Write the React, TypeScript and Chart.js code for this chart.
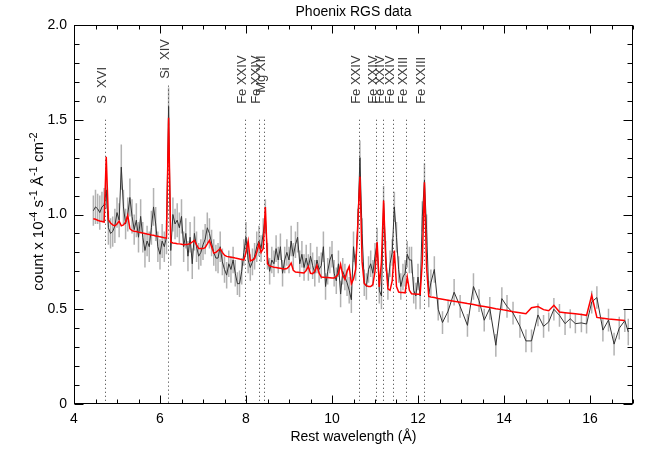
import React, { useEffect, useRef } from "react";
import { Chart, registerables } from "chart.js";

Chart.register(...registerables);

const TITLE = "Phoenix RGS data";
const X_TITLE = "Rest wavelength (Å)";
const Y_TITLE_PARTS: [string, boolean][] = [
  ["count x 10", false], ["-4", true], [" s", false], ["-1", true],
  [" Å", false], ["-1", true], [" cm", false], ["-2", true],
];
const X_TICKS = [4, 6, 8, 10, 12, 14, 16];
const X_TICK_LABELS = ["4", "6", "8", "10", "12", "14", "16"];
const Y_TICKS = [0, 0.5, 1.0, 1.5, 2.0];
const Y_TICK_LABELS = ["0", "0.5", "1.0", "1.5", "2.0"];

// Rest wavelength of each spectral bin (Å)
const WAVELENGTH = [
  4.45, 4.50, 4.55, 4.60, 4.65, 4.70, 4.75, 4.80, 4.85, 4.90,
  4.95, 5.00, 5.05, 5.10, 5.15, 5.20, 5.25, 5.30, 5.35, 5.40,
  5.45, 5.50, 5.55, 5.60, 5.65, 5.70, 5.75, 5.80, 5.85, 5.90,
  5.95, 6.00, 6.05, 6.10, 6.15, 6.20, 6.25, 6.30, 6.35, 6.40,
  6.45, 6.50, 6.55, 6.60, 6.65, 6.70, 6.75, 6.80, 6.85, 6.90,
  6.95, 7.00, 7.05, 7.10, 7.15, 7.20, 7.25, 7.30, 7.35, 7.40,
  7.45, 7.50, 7.55, 7.60, 7.65, 7.70, 7.75, 7.80, 7.85, 7.90,
  7.95, 8.00, 8.05, 8.10, 8.15, 8.20, 8.25, 8.30, 8.35, 8.40,
  8.45, 8.50, 8.55, 8.60, 8.65, 8.70, 8.75, 8.80, 8.85, 8.90,
  8.95, 9.00, 9.05, 9.10, 9.15, 9.20, 9.25, 9.30, 9.35, 9.40,
  9.45, 9.50, 9.55, 9.60, 9.65, 9.70, 9.75, 9.80, 9.85, 9.90,
  9.95, 10.00, 10.05, 10.10, 10.15, 10.20, 10.25, 10.30, 10.35, 10.40,
  10.45, 10.50, 10.55, 10.60, 10.65, 10.70, 10.75, 10.80, 10.85, 10.90,
  10.95, 11.00, 11.05, 11.10, 11.15, 11.20, 11.25, 11.30, 11.35, 11.40,
  11.45, 11.50, 11.55, 11.60, 11.65, 11.70, 11.75, 11.80, 11.85, 11.90,
  11.95, 12.00, 12.05, 12.10, 12.15, 12.20, 12.25, 12.30,
  12.38, 12.47, 12.57, 12.70, 12.84, 12.98, 13.15, 13.29, 13.42, 13.54,
  13.67, 13.81, 13.95, 14.07, 14.21, 14.37, 14.51, 14.64, 14.79, 14.92,
  15.04, 15.16, 15.29, 15.42, 15.54, 15.66, 15.80, 15.92, 16.04, 16.16,
  16.30, 16.43, 16.56, 16.68, 16.81, 16.89,
];

// Observed count rate (black)
const COUNTS = [
  1.02, 1.04, 1.03, 1.01, 1.04, 1.05, 1.13, 0.93, 0.90, 0.91,
  0.94, 1.01, 0.97, 1.25, 1.04, 0.95, 1.00, 1.09, 0.99, 0.92,
  0.97, 0.88, 0.99, 0.88, 0.81, 0.86, 0.83, 0.93, 1.04, 0.95,
  0.83, 0.79, 0.86, 0.83, 0.88, 1.57, 0.81, 1.00, 0.95, 0.97,
  0.93, 0.99, 0.83, 0.90, 0.78, 0.88, 0.74, 0.90, 0.83, 0.78,
  0.80, 0.84, 0.87, 0.93, 0.90, 0.85, 0.80, 0.77, 0.77, 0.83,
  0.75, 0.71, 0.68, 0.74, 0.71, 0.76, 0.69, 0.635, 0.635, 0.70,
  0.80, 0.88, 0.76, 0.72, 0.75, 0.78, 0.83, 0.86, 0.82, 0.90,
  0.99, 0.78, 0.70, 0.76, 0.74, 0.82, 0.76, 0.83, 0.69, 0.76,
  0.80, 0.76, 0.86, 0.78, 0.84, 0.88, 0.74, 0.79, 0.72, 0.77,
  0.72, 0.78, 0.73, 0.69, 0.76, 0.71, 0.73, 0.83, 0.62, 0.70,
  0.76, 0.79, 0.69, 0.65, 0.74, 0.58, 0.70, 0.67, 0.64, 0.60,
  0.55, 0.83, 0.72, 0.95, 1.30, 0.90, 0.64, 0.62, 0.71, 0.74,
  0.69, 0.78, 0.85, 0.60, 0.57, 1.06, 0.78, 0.62, 0.74, 0.80,
  1.04, 0.88, 0.71, 0.62, 0.67, 0.69, 0.79, 0.76, 0.76, 0.60,
  0.57, 0.67, 0.57, 0.99, 1.18, 0.92, 0.58, 0.64,
  0.71, 0.50, 0.43, 0.49, 0.59, 0.515, 0.415, 0.62, 0.545, 0.442,
  0.505, 0.31, 0.556, 0.515, 0.48, 0.41, 0.333, 0.333, 0.47, 0.41,
  0.433, 0.50, 0.468, 0.424, 0.45, 0.424, 0.428, 0.422, 0.538, 0.562,
  0.39, 0.443, 0.316, 0.40, 0.44, 0.38,
];

// 1-sigma uncertainty (grey bars)
const ERRORS = [
  0.08, 0.09, 0.08, 0.09, 0.08, 0.09, 0.10, 0.09, 0.08, 0.08,
  0.09, 0.08, 0.09, 0.12, 0.09, 0.08, 0.09, 0.10, 0.09, 0.08,
  0.09, 0.08, 0.09, 0.08, 0.09, 0.08, 0.08, 0.09, 0.10, 0.09,
  0.08, 0.08, 0.09, 0.08, 0.09, 0.10, 0.08, 0.09, 0.08, 0.09,
  0.08, 0.09, 0.08, 0.08, 0.08, 0.08, 0.08, 0.09, 0.08, 0.07,
  0.07, 0.08, 0.08, 0.08, 0.08, 0.07, 0.07, 0.07, 0.08, 0.08,
  0.07, 0.07, 0.07, 0.07, 0.07, 0.07, 0.07, 0.06, 0.07, 0.07,
  0.07, 0.08, 0.07, 0.07, 0.07, 0.07, 0.08, 0.08, 0.07, 0.08,
  0.09, 0.07, 0.07, 0.07, 0.07, 0.07, 0.07, 0.07, 0.07, 0.07,
  0.07, 0.07, 0.08, 0.07, 0.07, 0.08, 0.07, 0.07, 0.07, 0.07,
  0.07, 0.07, 0.07, 0.07, 0.07, 0.07, 0.07, 0.08, 0.07, 0.07,
  0.07, 0.07, 0.07, 0.07, 0.07, 0.07, 0.07, 0.07, 0.07, 0.07,
  0.07, 0.08, 0.07, 0.08, 0.09, 0.08, 0.07, 0.07, 0.07, 0.07,
  0.07, 0.07, 0.08, 0.07, 0.07, 0.09, 0.08, 0.07, 0.07, 0.07,
  0.08, 0.08, 0.07, 0.07, 0.07, 0.07, 0.07, 0.07, 0.07, 0.07,
  0.07, 0.07, 0.07, 0.08, 0.09, 0.08, 0.07, 0.07,
  0.07, 0.06, 0.06, 0.06, 0.07, 0.06, 0.06, 0.07, 0.06, 0.06,
  0.06, 0.06, 0.06, 0.06, 0.06, 0.06, 0.06, 0.06, 0.06, 0.06,
  0.05, 0.06, 0.06, 0.06, 0.05, 0.05, 0.05, 0.05, 0.06, 0.06,
  0.06, 0.06, 0.06, 0.06, 0.06, 0.07,
];

// Best-fitting model (red)
const MODEL = [
  0.978, 0.975, 0.970, 0.966, 0.963, 0.960, 1.305, 0.972, 0.955, 0.945,
  0.940, 0.950, 0.965, 0.940, 0.945, 0.960, 0.995, 0.925, 0.915, 0.912,
  0.910, 0.907, 0.905, 0.902, 0.900, 0.897, 0.895, 0.892, 0.890, 0.887,
  0.885, 0.882, 0.880, 0.877, 0.875, 1.510, 0.855, 0.850, 0.848, 0.846,
  0.845, 0.843, 0.840, 0.842, 0.843, 0.846, 0.855, 0.863, 0.840, 0.820,
  0.820, 0.820, 0.825, 0.845, 0.863, 0.830, 0.796, 0.800, 0.810, 0.820,
  0.800, 0.785, 0.779, 0.777, 0.775, 0.773, 0.770, 0.768, 0.765, 0.762,
  0.760, 0.800, 0.860, 0.755, 0.760, 0.767, 0.800, 0.845, 0.800, 0.820,
  1.040, 0.740, 0.728, 0.725, 0.722, 0.720, 0.718, 0.716, 0.714, 0.712,
  0.715, 0.725, 0.744, 0.705, 0.696, 0.695, 0.694, 0.693, 0.691, 0.705,
  0.726, 0.690, 0.688, 0.700, 0.731, 0.690, 0.670, 0.669, 0.668, 0.667,
  0.666, 0.665, 0.665, 0.672, 0.688, 0.737, 0.680, 0.658, 0.700, 0.726,
  0.635, 0.660, 0.710, 0.950, 1.200, 0.750, 0.635, 0.625, 0.620, 0.620,
  0.630, 0.700, 0.854, 0.618, 0.750, 1.074, 0.760, 0.608, 0.600, 0.650,
  0.810, 0.620, 0.591, 0.589, 0.588, 0.586, 0.670, 0.600, 0.582, 0.581,
  0.580, 0.579, 0.579, 0.750, 1.170, 0.720, 0.568, 0.565,
  0.562, 0.557, 0.553, 0.548, 0.542, 0.537, 0.530, 0.525, 0.519, 0.514,
  0.509, 0.503, 0.498, 0.493, 0.487, 0.482, 0.476, 0.508, 0.514, 0.498,
  0.492, 0.521, 0.485, 0.482, 0.479, 0.476, 0.472, 0.468, 0.574, 0.457,
  0.453, 0.449, 0.446, 0.443, 0.440, null,
];

// Line identifications
const LINE_WAVELENGTHS = [4.73, 6.18, 7.98, 8.31, 8.42, 10.62, 11.03, 11.18, 11.43, 11.73, 12.15];
const LINE_LABELS = ["S  XVI", "Si  XIV", "Fe XXIV", "Fe XXIV", "Mg XII", "Fe XXIV", "Fe XXIV", "Fe XXIV", "Fe XXIV", "Fe XXIII", "Fe XXIII"];
const LINE_LABEL_Y = [1.584, 1.716, 1.584, 1.584, 1.642, 1.584, 1.584, 1.584, 1.584, 1.584, 1.584];
const LINE_TOP_Y = [1.5, 1.68, 1.5, 1.5, 1.5, 1.5, 1.5, 1.5, 1.5, 1.5, 1.5];

const FONT = '"Liberation Sans", Arial, Helvetica, sans-serif';

const decorations = {
  id: "decorations",
  beforeDatasetsDraw(chart: any) {
    const { ctx, chartArea: a, scales } = chart;
    const xs = scales.x;
    const ys = scales.y;
    ctx.save();
    ctx.beginPath();
    ctx.rect(a.left, a.top, a.right - a.left, a.bottom - a.top);
    ctx.clip();
    // error bars
    ctx.strokeStyle = "rgba(165,165,165,0.85)";
    ctx.lineWidth = 1.5;
    ctx.beginPath();
    for (let i = 0; i < WAVELENGTH.length; i++) {
      const px = xs.getPixelForValue(WAVELENGTH[i]);
      ctx.moveTo(px, ys.getPixelForValue(COUNTS[i] - ERRORS[i]));
      ctx.lineTo(px, ys.getPixelForValue(COUNTS[i] + ERRORS[i]));
    }
    ctx.stroke();
    // dotted line markers
    ctx.strokeStyle = "#333";
    ctx.lineWidth = 1;
    ctx.setLineDash([1, 3]);
    ctx.beginPath();
    for (let i = 0; i < LINE_WAVELENGTHS.length; i++) {
      const px = Math.round(xs.getPixelForValue(LINE_WAVELENGTHS[i])) + 0.5;
      ctx.moveTo(px, ys.getPixelForValue(LINE_TOP_Y[i]));
      ctx.lineTo(px, a.bottom);
    }
    ctx.stroke();
    ctx.restore();
  },
  afterDraw(chart: any) {
    const { ctx, chartArea: a, scales } = chart;
    const xs = scales.x;
    const ys = scales.y;
    const L = Math.round(a.left) + 0.5;
    const R = Math.round(a.right) - 0.5;
    const T = Math.round(a.top) + 0.5;
    const B = Math.round(a.bottom) - 0.5;
    ctx.save();
    ctx.strokeStyle = "#000";
    ctx.lineWidth = 1;
    ctx.setLineDash([]);
    ctx.strokeRect(L, T, R - L, B - T);
    ctx.beginPath();
    for (let i = 0; i <= 26; i++) {
      const v = 4 + i * 0.5;
      const major = i % 4 === 0;
      const len = major ? 8 : 4;
      const px = Math.round(xs.getPixelForValue(v)) + 0.5;
      ctx.moveTo(px, B);
      ctx.lineTo(px, B - len);
      ctx.moveTo(px, T);
      ctx.lineTo(px, T + len);
    }
    for (let i = 0; i <= 20; i++) {
      const v = i / 10;
      const major = i % 5 === 0;
      const len = major ? 9 : 5;
      const py = Math.round(ys.getPixelForValue(v)) + 0.5;
      ctx.moveTo(L, py);
      ctx.lineTo(L + len, py);
      ctx.moveTo(R, py);
      ctx.lineTo(R - len, py);
    }
    ctx.stroke();

    // line labels (rotated)
    ctx.fillStyle = "#3a3a3a";
    ctx.font = `13px ${FONT}`;
    ctx.textAlign = "left";
    ctx.textBaseline = "alphabetic";
    for (let i = 0; i < LINE_WAVELENGTHS.length; i++) {
      const px = xs.getPixelForValue(LINE_WAVELENGTHS[i]) + 1;
      const py = ys.getPixelForValue(LINE_LABEL_Y[i]);
      ctx.save();
      ctx.translate(px, py);
      ctx.rotate(-Math.PI / 2);
      ctx.fillText(LINE_LABELS[i], 0, 0);
      ctx.restore();
    }

    // title
    ctx.fillStyle = "#000";
    ctx.font = `14px ${FONT}`;
    ctx.textAlign = "center";
    ctx.textBaseline = "middle";
    const cx = (a.left + a.right) / 2;
    ctx.fillText(TITLE, cx, 12);
    ctx.fillText(X_TITLE, cx, 437);

    // y title with superscripts
    const big = `15px ${FONT}`;
    const small = `11px ${FONT}`;
    let total = 0;
    for (const [s, sup] of Y_TITLE_PARTS) {
      ctx.font = sup ? small : big;
      total += ctx.measureText(s).width;
    }
    ctx.save();
    ctx.translate(43, (a.top + a.bottom) / 2 - 3);
    ctx.rotate(-Math.PI / 2);
    ctx.textAlign = "left";
    ctx.textBaseline = "alphabetic";
    let off = -total / 2;
    for (const [s, sup] of Y_TITLE_PARTS) {
      ctx.font = sup ? small : big;
      ctx.fillText(s, off, sup ? -6 : 0);
      off += ctx.measureText(s).width;
    }
    ctx.restore();
    ctx.restore();
  },
};

export default function App() {
  const ref = useRef<HTMLCanvasElement | null>(null);

  useEffect(() => {
    if (!ref.current) return;
    const dataPts = WAVELENGTH.map((w, i) => ({ x: w, y: COUNTS[i] }));
    const modelPts = WAVELENGTH.map((w, i) => ({ x: w, y: MODEL[i] }));
    const tickFont = { family: FONT, size: 14 };
    const chart = new Chart(ref.current, {
      type: "line",
      data: {
        datasets: [
          {
            label: "Model",
            data: modelPts as any,
            borderColor: "#ff0000",
            borderWidth: 1.5,
            pointRadius: 0,
            tension: 0,
            fill: false,
            spanGaps: false,
          },
          {
            label: "Data",
            data: dataPts as any,
            borderColor: "#333333",
            borderWidth: 1,
            pointRadius: 0,
            tension: 0,
            fill: false,
          },
        ],
      },
      options: {
        animation: false,
        responsive: true,
        maintainAspectRatio: false,
        layout: { padding: { top: 25, right: 21, left: 0, bottom: 0 } },
        plugins: {
          legend: { display: false },
          tooltip: { enabled: false },
          title: { display: false },
        },
        scales: {
          x: {
            type: "linear",
            min: 4,
            max: 17,
            afterBuildTicks: (s: any) => {
              s.ticks = X_TICKS.map((v) => ({ value: v }));
            },
            afterFit: (s: any) => {
              s.height = 51;
            },
            grid: { display: false, drawTicks: false },
            border: { display: false },
            ticks: {
              autoSkip: false,
              maxRotation: 0,
              padding: 7,
              color: "#000",
              font: tickFont,
              callback: (_v: any, i: number) => X_TICK_LABELS[i],
            },
          },
          y: {
            type: "linear",
            min: 0,
            max: 2,
            afterBuildTicks: (s: any) => {
              s.ticks = Y_TICKS.map((v) => ({ value: v }));
            },
            afterFit: (s: any) => {
              s.width = 74;
            },
            grid: { display: false, drawTicks: false },
            border: { display: false },
            ticks: {
              autoSkip: false,
              padding: 7,
              color: "#000",
              font: tickFont,
              callback: (_v: any, i: number) => Y_TICK_LABELS[i],
            },
          },
        },
      },
      plugins: [decorations],
    });
    return () => chart.destroy();
  }, []);

  return (
    <div style={{ position: "absolute", left: 0, top: 0, width: 654, height: 455, background: "#fff" }}>
      <canvas ref={ref} />
    </div>
  );
}
